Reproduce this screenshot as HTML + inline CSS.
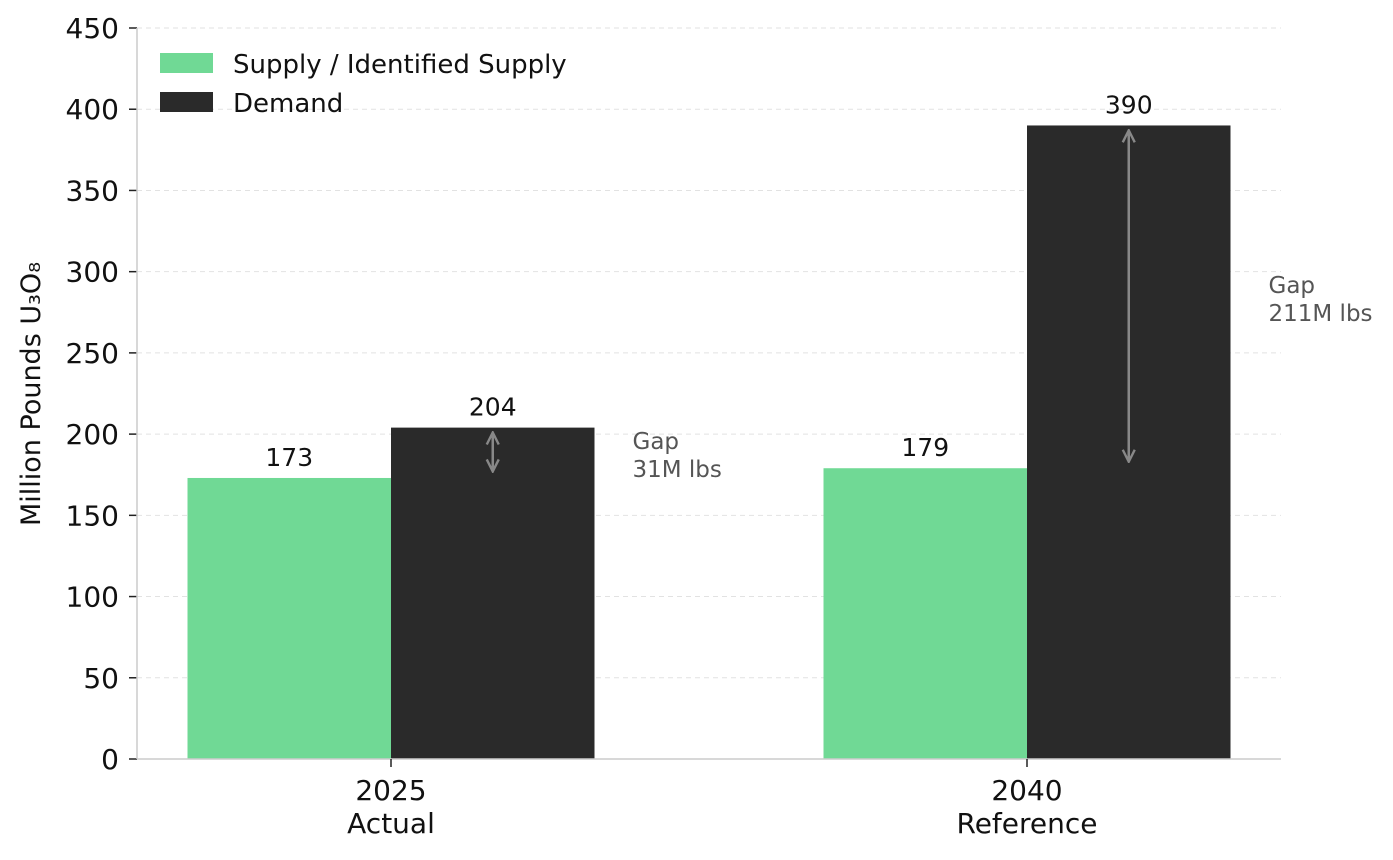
<!DOCTYPE html>
<html><head><meta charset="utf-8"><style>
body{margin:0;background:#fff;}
svg text{font-family:"DejaVu Sans","Liberation Sans",sans-serif;}
</style></head><body>
<svg id="chart" width="1393" height="855" xmlns="http://www.w3.org/2000/svg">
<defs><marker id="ah" viewBox="0 0 10 10" refX="9" refY="5" markerWidth="6" markerHeight="6" orient="auto-start-reverse"><path d="M1,1 L9,5 L1,9" fill="none" stroke="#888" stroke-width="1.6"/></marker></defs>
<g id="grid"></g><g id="bars"></g><g id="ann"></g><g id="axes"></g>
<g>
<rect x="160" y="53" width="53" height="20" fill="#70d995"/>
<text x="233" y="73" font-size="26" fill="#111">Supply / Identified Supply</text>
<rect x="160" y="92" width="53" height="20" fill="#2a2a2a"/>
<text x="233" y="112" font-size="26" fill="#111">Demand</text>
</g>
<text transform="translate(40,394) rotate(-90)" text-anchor="middle" font-size="27" fill="#111">Million Pounds U₃O₈</text>
</svg>
<script>
const categories=["2025","2040"];
const subLabels=["Actual","Reference"];
const supply=[173,179];
const demand=[204,390];
const yTicks=[0,50,100,150,200,250,300,350,400,450];
const NS="http://www.w3.org/2000/svg";
const x0=137,x1=1281,yb=759,yt=28,ymax=450;
const y=v=>yb-(yb-yt)*v/ymax;
const cx=i=>391+i*636;
const bw=203.5;
function mk(t,a,p){const e=document.createElementNS(NS,t);for(const k in a){if(k!=='text')e.setAttribute(k,a[k]);}if(a.text!==undefined)e.textContent=a.text;p.appendChild(e);return e;}
const G=document.getElementById('grid'),B=document.getElementById('bars'),A=document.getElementById('ann'),X=document.getElementById('axes');
yTicks.forEach(t=>{
 if(t>0){const l=mk('line',{x1:x0,x2:x1,y1:y(t),y2:y(t),stroke:'#e2e2e2','stroke-dasharray':'5,4','stroke-width':1},G);
 }
 const tk=mk('line',{x1:x0-8,x2:x0,y1:y(t),y2:y(t),stroke:'#222','stroke-width':1.5},X);
 
 const tx=mk('text',{x:x0-18,y:y(t)+10,'text-anchor':'end','font-size':28,fill:'#111',text:String(t)},X);
 
});
const ax=mk('line',{x1:x0,x2:x0,y1:yt,y2:yb,stroke:'#ccc','stroke-width':1.5},X);
const bx=mk('line',{x1:x0,x2:x1,y1:yb,y2:yb,stroke:'#ccc','stroke-width':1.5},X);
categories.forEach((c,i)=>{
 const c0=cx(i);
 const s=mk('rect',{x:c0-bw,y:y(supply[i]),width:bw,height:yb-y(supply[i]),fill:'#70d995'},B);
 
 const d=mk('rect',{x:c0,y:y(demand[i]),width:bw,height:yb-y(demand[i]),fill:'#2a2a2a'},B);
 
 const sl=mk('text',{x:c0-bw/2,y:y(supply[i])-12,'text-anchor':'middle','font-size':25,fill:'#111',text:String(supply[i])},A);
 
 const dl=mk('text',{x:c0+bw/2,y:y(demand[i])-12,'text-anchor':'middle','font-size':25,fill:'#111',text:String(demand[i])},A);
 
 const ar=mk('line',{x1:c0+bw/2,x2:c0+bw/2,y1:y(demand[i]-3),y2:y(supply[i]+4),stroke:'#888','stroke-width':2.5,'marker-start':'url(#ah)','marker-end':'url(#ah)'},A);
 
 const gy=y((supply[i]+demand[i])/2);
 const g=mk('text',{x:c0+bw+38,y:gy-4,'font-size':23,fill:'#555'},A);
 
 mk('tspan',{x:c0+bw+38,dy:0,text:'Gap'},g);
 mk('tspan',{x:c0+bw+38,dy:28,text:(demand[i]-supply[i])+'M lbs'},g);
 const t1=mk('text',{x:c0,y:800,'text-anchor':'middle','font-size':28,fill:'#111',text:c},X);
 
 const t2=mk('text',{x:c0,y:833,'text-anchor':'middle','font-size':28,fill:'#111',text:subLabels[i]},X);
 
 const tk=mk('line',{x1:c0,x2:c0,y1:yb,y2:yb+8,stroke:'#222','stroke-width':1.5},X);
 
});
</script>
</body></html>
